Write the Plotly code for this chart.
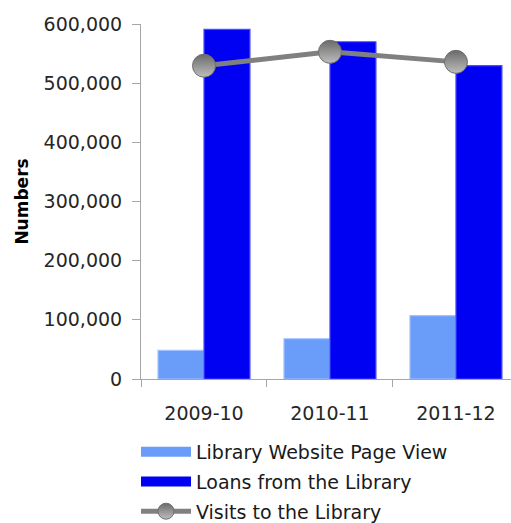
import plotly.graph_objects as go

# Library usage by financial year
years = ["2009-10", "2010-11", "2011-12"]
page_views = [48500, 68000, 107000]
loans = [591000, 570000, 529500]
visits = [529500, 553000, 536000]

FONT = "DejaVu Sans"
AXIS_GREY = "#A6A6A6"
LIGHT_BLUE = "#6A9DF9"
DEEP_BLUE = "#0000F2"

fig = go.Figure()

fig.add_trace(go.Bar(
    name="Library Website Page View", legendgroup="pv", showlegend=False,
    x=years, y=page_views,
    marker=dict(color=LIGHT_BLUE, line=dict(color="#9FC2FF", width=1.2)),
))
fig.add_trace(go.Bar(
    name="Loans from the Library", legendgroup="loans", showlegend=False,
    x=years, y=loans,
    marker=dict(color=DEEP_BLUE, line=dict(color="#4D4DFF", width=1.2)),
))
fig.add_trace(go.Scatter(
    name="Visits to the Library", legendgroup="visits", legendrank=3,
    x=years, y=visits,
    mode="lines+markers",
    line=dict(color="#808080", width=5),
    marker=dict(
        size=23, color="#6A6A6A",
        gradient=dict(type="vertical", color="#BEBEBE"),
        line=dict(color="#6E6E6E", width=1),
    ),
))

# wide swatches for the bar series in the legend
fig.add_trace(go.Scatter(
    name="Library Website Page View", legendgroup="pv", legendrank=1,
    x=[None], y=[None], mode="lines",
    line=dict(color=LIGHT_BLUE, width=14),
))
fig.add_trace(go.Scatter(
    name="Loans from the Library", legendgroup="loans", legendrank=2,
    x=[None], y=[None], mode="lines",
    line=dict(color=DEEP_BLUE, width=14),
))

fig.update_layout(
    width=511, height=523,
    margin=dict(l=141, r=0, t=24, b=144, autoexpand=False),
    paper_bgcolor="white", plot_bgcolor="white",
    font=dict(family=FONT, size=19, color="#262626"),
    barmode="group", bargap=0.27, bargroupgap=0,
    showlegend=True,
    legend=dict(
        orientation="v",
        x=-0.0135, xanchor="left",
        y=-0.152, yanchor="top",
        font=dict(family=FONT, size=19, color="#1A1A1A"),
        itemwidth=50, tracegroupgap=2,
        bgcolor="rgba(0,0,0,0)",
    ),
)

fig.update_xaxes(
    type="category", range=[-0.5, 2.437],
    showline=True, linecolor=AXIS_GREY, linewidth=1,
    ticks="outside", tickson="boundaries", ticklen=7, tickcolor=AXIS_GREY,
    ticklabelstandoff=17,
    showgrid=False, zeroline=False,
    tickfont=dict(family=FONT, size=19, color="#262626"),
)

fig.update_yaxes(
    range=[0, 600000], dtick=100000, tickformat=",",
    showline=True, linecolor=AXIS_GREY, linewidth=1,
    ticks="outside", ticklen=8, tickcolor=AXIS_GREY,
    ticklabelstandoff=6,
    showgrid=False, zeroline=False,
    tickfont=dict(family=FONT, size=19, color="#262626"),
    title=dict(text="<b>Numbers</b>", font=dict(family=FONT, size=17, color="#000000"),
               standoff=10),
)

fig.write_html("out.html")
